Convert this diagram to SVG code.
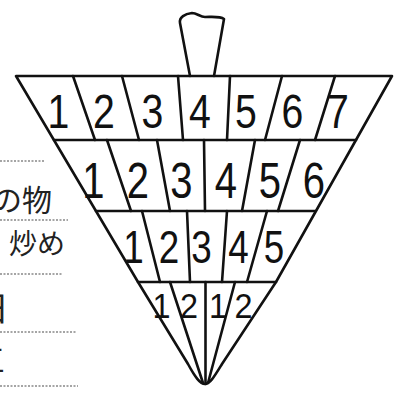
<svg xmlns="http://www.w3.org/2000/svg" width="405" height="398" viewBox="0 0 405 398">
<style>
.ln{fill:none;stroke:#111;stroke-width:2.6;stroke-linejoin:round;stroke-linecap:round}
.d{font-family:"Liberation Sans",Arial,sans-serif;fill:#111;text-anchor:middle}
.r1{font-size:49px}.r2{font-size:50px}.r3{font-size:46px}.r4{font-size:36px}
.jp{font-family:"Noto Sans CJK JP","Noto Sans CJK SC",sans-serif;fill:#222}
.dot{stroke:#888;stroke-width:1.3;stroke-dasharray:2 1.5}
</style>
<rect width="405" height="398" fill="#fff"/>
<g id="side-labels">
<line class="dot" x1="0" y1="161" x2="45" y2="161"/>
<line class="dot" x1="0" y1="220" x2="68" y2="220"/>
<line class="dot" x1="0" y1="274" x2="62" y2="274"/>
<line class="dot" x1="0" y1="332" x2="77" y2="332"/>
<line class="dot" x1="0" y1="386" x2="78" y2="386"/>
<text class="jp" x="-8" y="211" font-size="30">の物</text>
<text class="jp" x="9" y="254" font-size="28">炒め</text>
<text class="jp" x="-25" y="321" font-size="34">日</text>
<text class="jp" x="-25" y="371" font-size="30">三</text>
</g>
<g id="stem">
<path class="ln" d="M190,76 L180,23 C179,17 185,14 192,13 C197,13 200,17 205,17 C212,17 220,16 224,19 L214,76"/>
</g>
<g id="outline">
<path class="ln" d="M16,76 L392,76 L276,282 L222,364 C214,377 210,384 205,384 C200,384 195,377 188,364 L138,282 Z"/>
<line class="ln" x1="54" y1="140" x2="356" y2="140"/>
<line class="ln" x1="96" y1="211" x2="315" y2="211"/>
<line class="ln" x1="138" y1="282" x2="276" y2="282"/>
</g>
<g id="dividers">
<line class="ln" x1="73" y1="76" x2="95" y2="140"/>
<line class="ln" x1="122" y1="76" x2="139" y2="140"/>
<line class="ln" x1="178" y1="76" x2="183" y2="140"/>
<line class="ln" x1="230" y1="76" x2="227" y2="140"/>
<line class="ln" x1="282" y1="76" x2="265" y2="140"/>
<line class="ln" x1="335" y1="76" x2="315" y2="140"/>
<line class="ln" x1="107" y1="140" x2="131" y2="211"/>
<line class="ln" x1="157" y1="140" x2="170" y2="211"/>
<line class="ln" x1="204" y1="140" x2="205" y2="211"/>
<line class="ln" x1="255" y1="140" x2="242" y2="211"/>
<line class="ln" x1="300" y1="140" x2="278" y2="211"/>
<line class="ln" x1="142" y1="211" x2="160" y2="282"/>
<line class="ln" x1="187" y1="211" x2="190" y2="282"/>
<line class="ln" x1="227" y1="211" x2="222" y2="282"/>
<line class="ln" x1="267" y1="211" x2="247" y2="282"/>
<line class="ln" x1="170" y1="282" x2="203" y2="383"/>
<line class="ln" x1="205.5" y1="282" x2="205.5" y2="384"/>
<line class="ln" x1="235" y1="282" x2="208" y2="383"/>
</g>
<g id="row1">
<text class="d r1" transform="translate(58.5,128) scale(0.8,1)">1</text>
<text class="d r1" transform="translate(104,128) scale(0.8,1)">2</text>
<text class="d r1" transform="translate(152.5,128) scale(0.8,1)">3</text>
<text class="d r1" transform="translate(200,128) scale(0.8,1)">4</text>
<text class="d r1" transform="translate(246,128) scale(0.8,1)">5</text>
<text class="d r1" transform="translate(292.5,128) scale(0.8,1)">6</text>
<text class="d r1" transform="translate(338,128) scale(0.8,1)">7</text>
</g>
<g id="row2">
<text class="d r2" transform="translate(93.5,198) scale(0.8,1)">1</text>
<text class="d r2" transform="translate(138,198) scale(0.8,1)">2</text>
<text class="d r2" transform="translate(181.5,198) scale(0.8,1)">3</text>
<text class="d r2" transform="translate(226,198) scale(0.8,1)">4</text>
<text class="d r2" transform="translate(270,198) scale(0.8,1)">5</text>
<text class="d r2" transform="translate(314,198) scale(0.8,1)">6</text>
</g>
<g id="row3">
<text class="d r3" transform="translate(133.5,263) scale(0.8,1)">1</text>
<text class="d r3" transform="translate(169,263) scale(0.8,1)">2</text>
<text class="d r3" transform="translate(201.5,263) scale(0.8,1)">3</text>
<text class="d r3" transform="translate(238.5,263) scale(0.8,1)">4</text>
<text class="d r3" transform="translate(274,263) scale(0.8,1)">5</text>
</g>
<g id="row4">
<text class="d r4" transform="translate(161.5,318) scale(0.9,1)">1</text>
<text class="d r4" transform="translate(189,318) scale(0.9,1)">2</text>
<text class="d r4" transform="translate(218,318) scale(0.9,1)">1</text>
<text class="d r4" transform="translate(243.5,318) scale(0.9,1)">2</text>
</g>
</svg>
